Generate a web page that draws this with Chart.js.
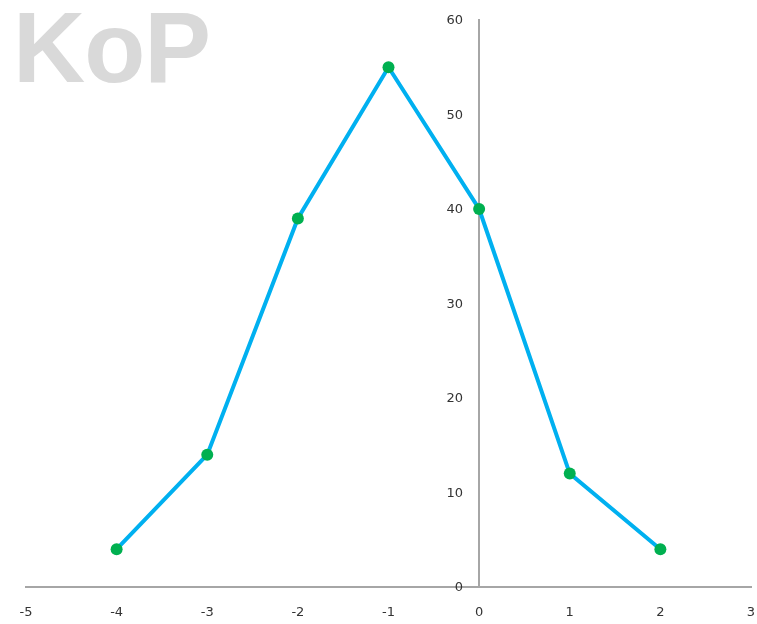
<!DOCTYPE html>
<html>
<head>
<meta charset="utf-8">
<script src="https://cdn.jsdelivr.net/npm/chart.js@4/dist/chart.umd.min.js"></script>
<style>
  html, body { margin: 0; padding: 0; background: #fff; }
  #wrap { position: relative; width: 757px; height: 624px; }
  #mark {
    position: absolute; left: 13px; top: -10px;
    font-family: "Liberation Sans", Arial, sans-serif; font-weight: bold;
    font-size: 100px; color: #d9d9d9; letter-spacing: -1px;
  }
  canvas { position: absolute; left: 0; top: 0; }
</style>
</head>
<body>
<div id="wrap">
  <div id="mark">KoP</div>
  <canvas id="c" width="757" height="624"></canvas>
</div>
<script>
// Measured points of the curve
const xValues = [-4, -3, -2, -1, 0, 1, 2];
const yValues = [4, 14, 39, 55, 40, 12, 4];

const xMin = -5, xMax = 3;
const yMin = 0, yMax = 60;

const points = xValues.map((x, i) => ({ x: x, y: yValues[i] }));

const tickFont = { family: "'DejaVu Sans', sans-serif", size: 13 };
const tickColor = '#333';

// Y labels sit a little left of the vertical axis that crosses at x = 0
const yLabelPlugin = {
  id: 'yLabels',
  afterDraw(chart) {
    const ys = chart.scales.y, xs = chart.scales.x;
    const ctx = chart.ctx;
    const axisX = xs.getPixelForValue(0);
    ctx.save();
    ctx.font = `${tickFont.size}px ${tickFont.family}`;
    ctx.fillStyle = tickColor;
    ctx.textAlign = 'right';
    ctx.textBaseline = 'middle';
    ys.ticks.forEach(t => {
      ctx.fillText(String(t.value), axisX - 16, ys.getPixelForValue(t.value) + 1);
    });
    ctx.restore();
  }
};

new Chart(document.getElementById('c'), {
  type: 'scatter',
  data: {
    datasets: [{
      data: points,
      showLine: true,
      borderColor: '#00b0f0',
      borderWidth: 4,
      pointBackgroundColor: '#00b050',
      pointBorderColor: '#00b050',
      pointRadius: 6,
      pointBorderWidth: 0,
      tension: 0
    }]
  },
  options: {
    responsive: false,
    animation: false,
    layout: { padding: { left: 26, right: 6, top: 20, bottom: 37 } },
    plugins: { legend: { display: false }, tooltip: { enabled: false } },
    scales: {
      x: {
        type: 'linear',
        position: { y: 0 },
        min: xMin, max: xMax,
        afterFit: s => { s.height = 0; s.paddingLeft = 0; s.paddingRight = 0; },
        grid: { display: false, drawTicks: false },
        border: { display: true, color: '#a6a6a6', width: 2 },
        ticks: { stepSize: 1, color: tickColor, font: tickFont, padding: 18, maxRotation: 0 }
      },
      y: {
        type: 'linear',
        position: { x: 0 },
        min: yMin, max: yMax,
        afterFit: s => { s.width = 0; s.paddingTop = 0; s.paddingBottom = 0; },
        grid: { display: false, drawTicks: false },
        border: { display: true, color: '#a6a6a6', width: 2 },
        ticks: { stepSize: 10, display: false }
      }
    }
  },
  plugins: [yLabelPlugin]
});
</script>
</body>
</html>
